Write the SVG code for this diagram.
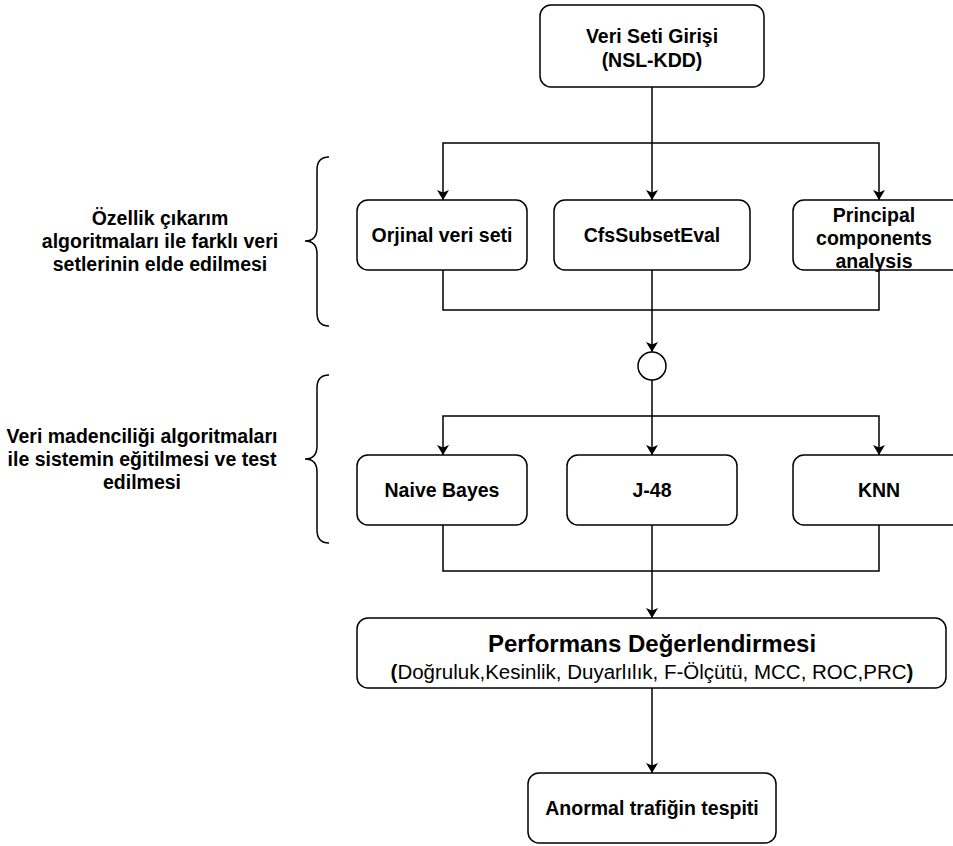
<svg xmlns="http://www.w3.org/2000/svg" width="953" height="846" viewBox="0 0 953 846">
<defs>
<marker id="arr" viewBox="0 0 10 12" refX="10" refY="6" markerWidth="10" markerHeight="12" markerUnits="userSpaceOnUse" orient="auto">
<path d="M0,0 L10,6 L0,12 L2.5,6 z" fill="#000"/>
</marker>
<style>
.box{fill:#fff;stroke:#000;stroke-width:1.5}
.lbl{font-family:"Liberation Sans",Arial,sans-serif;font-weight:bold;font-size:19.5px;fill:#000;text-anchor:middle}
.side{font-family:"Liberation Sans",Arial,sans-serif;font-weight:bold;font-size:19.5px;fill:#000;text-anchor:middle}
.title{font-family:"Liberation Sans",Arial,sans-serif;font-weight:bold;font-size:24px;fill:#000;text-anchor:middle}
.sub{font-family:"Liberation Sans",Arial,sans-serif;font-size:20.5px;fill:#000;text-anchor:middle}
.ln{fill:none;stroke:#000;stroke-width:1.5}
.arr{marker-end:url(#arr)}
</style>
</defs>
<rect width="953" height="846" fill="#fff"/>

<g id="connectors">
<path class="ln arr" d="M652,87 V200"/>
<path class="ln arr" d="M652,143 H443 V200"/>
<path class="ln arr" d="M652,143 H879 V200"/>
<path class="ln" d="M443,270 V310 H879 V270"/>
<path class="ln arr" d="M652,270 V352"/>
<path class="ln arr" d="M652,380 V455"/>
<path class="ln arr" d="M652,416 H443 V455"/>
<path class="ln arr" d="M652,416 H879 V455"/>
<path class="ln" d="M443,525 V571 H879 V525"/>
<path class="ln arr" d="M652,525 V618"/>
<path class="ln arr" d="M652,688 V773"/>
</g>

<g id="input">
<rect class="box" x="540" y="5" width="224" height="82" rx="11"/>
<text class="lbl" x="652" y="43">Veri Seti Girişi</text>
<text class="lbl" x="652" y="67">(NSL-KDD)</text>
</g>

<g id="brace1">
<path class="ln" d="M329,157 Q317,157 317,170 V228 Q317,241 305,241 Q317,241 317,254 V313 Q317,326 329,326"/>
</g>
<g id="label1">
<text class="side" x="160" y="225">Özellik çıkarım</text>
<text class="side" x="160" y="248">algoritmaları ile farklı veri</text>
<text class="side" x="160" y="271">setlerinin elde edilmesi</text>
</g>

<g id="orjinal">
<rect class="box" x="357" y="200" width="170" height="70" rx="11"/>
<text class="lbl" x="442" y="242">Orjinal veri seti</text>
</g>
<g id="cfs">
<rect class="box" x="554" y="200" width="196" height="70" rx="11"/>
<text class="lbl" x="652" y="242">CfsSubsetEval</text>
</g>
<g id="pca">
<rect class="box" x="793" y="200" width="170" height="70" rx="11"/>
<text class="lbl" x="874" y="222">Principal</text>
<text class="lbl" x="874" y="245">components</text>
<text class="lbl" x="874" y="268">analysis</text>
</g>

<g id="merge">
<circle class="box" cx="652" cy="366" r="14"/>
</g>

<g id="brace2">
<path class="ln" d="M329,375 Q317,375 317,388 V446 Q317,459 305,459 Q317,459 317,472 V530 Q317,543 329,543"/>
</g>
<g id="label2">
<text class="side" x="142" y="443">Veri madenciliği algoritmaları</text>
<text class="side" x="142" y="466">ile sistemin eğitilmesi ve test</text>
<text class="side" x="142" y="489">edilmesi</text>
</g>

<g id="nb">
<rect class="box" x="357" y="455" width="170" height="70" rx="11"/>
<text class="lbl" x="442" y="497">Naive Bayes</text>
</g>
<g id="j48">
<rect class="box" x="567" y="455" width="170" height="70" rx="11"/>
<text class="lbl" x="652" y="497">J-48</text>
</g>
<g id="knn">
<rect class="box" x="793" y="455" width="170" height="70" rx="11"/>
<text class="lbl" x="879" y="497">KNN</text>
</g>

<g id="perf">
<rect class="box" x="357" y="618" width="589" height="70" rx="11"/>
<text class="title" x="652" y="652">Performans Değerlendirmesi</text>
<text class="sub" x="652" y="679"><tspan font-weight="bold">(</tspan>Doğruluk,Kesinlik, Duyarlılık, F-Ölçütü, MCC, ROC,PRC<tspan font-weight="bold">)</tspan></text>
</g>

<g id="result">
<rect class="box" x="528" y="773" width="248" height="70" rx="11"/>
<text class="lbl" x="652" y="815">Anormal trafiğin tespiti</text>
</g>
</svg>
